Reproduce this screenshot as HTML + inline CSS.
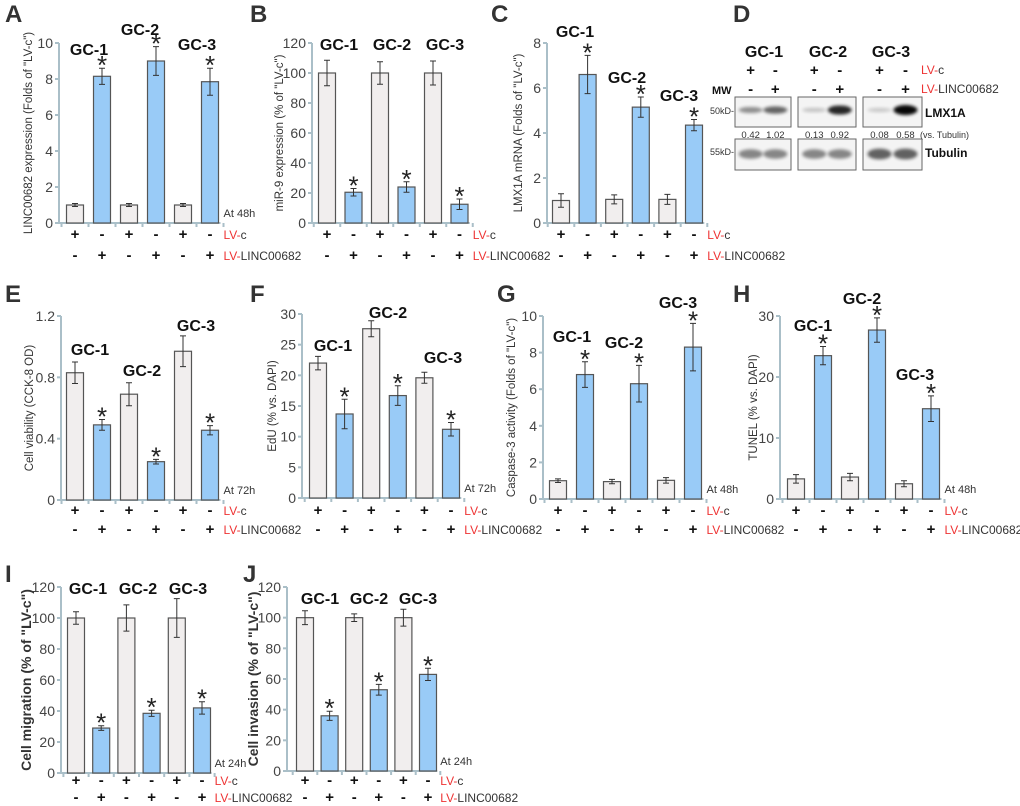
<!DOCTYPE html>
<html><head><meta charset="utf-8"><style>
html,body{margin:0;padding:0;background:#fff;}
svg{display:block;font-family:"Liberation Sans",Arial,sans-serif;}
</style></head><body>
<svg id="fig" width="1020" height="806" viewBox="0 0 1020 806" xmlns="http://www.w3.org/2000/svg">
<defs><filter id="blur" x="-20%" y="-50%" width="140%" height="200%"><feGaussianBlur stdDeviation="1.6"/></filter></defs>
<g id="charts"></g>
<g id="blot">
<text x="733" y="22" font-size="24" font-weight="bold" fill="#333">D</text>
<text x="764" y="57" font-size="16" font-weight="bold" text-anchor="middle" fill="#111">GC-1</text>
<text x="828" y="57" font-size="16" font-weight="bold" text-anchor="middle" fill="#111">GC-2</text>
<text x="891" y="57" font-size="16" font-weight="bold" text-anchor="middle" fill="#111">GC-3</text>
<text x="712" y="94" font-size="11" font-weight="bold" fill="#111">MW</text>
<text x="921" y="74" font-size="12" fill="#e33">LV-<tspan fill="#333">c</tspan></text>
<text x="921" y="93" font-size="12" fill="#e33">LV-<tspan fill="#333">LINC00682</tspan></text>
<text x="734" y="114" font-size="9" text-anchor="end" fill="#333">50kD-</text>
<text x="734" y="155" font-size="9" text-anchor="end" fill="#333">55kD-</text>
<text x="925" y="117" font-size="12" font-weight="bold" fill="#111">LMX1A</text>
<text x="925" y="157" font-size="12" font-weight="bold" fill="#111">Tubulin</text>
<text x="920" y="138" font-size="9" fill="#333">(vs. Tubulin)</text>
</g>
</svg>
<script>
// ---- data (values and SEM) ----
const catGroups = ["GC-1","GC-2","GC-3"];
const valsA = [1, 8.15, 1, 9.0, 1, 7.85];
const errA  = [0.08, 0.45, 0.08, 0.8, 0.08, 0.75];
const valsB = [100, 20.5, 100, 24, 100, 12.5];
const errB  = [8.5, 2.5, 7.5, 3.5, 8, 3.5];
const valsC = [1.0, 6.6, 1.05, 5.15, 1.05, 4.35];
const errC  = [0.3, 0.85, 0.2, 0.45, 0.22, 0.25];
const valsE = [0.83, 0.49, 0.69, 0.25, 0.97, 0.455];
const errE  = [0.07, 0.035, 0.075, 0.015, 0.1, 0.03];
const valsF = [22, 13.7, 27.6, 16.7, 19.6, 11.2];
const errF  = [1.1, 2.4, 1.3, 1.6, 0.9, 1.1];
const valsG = [1.0, 6.8, 0.95, 6.3, 1.02, 8.3];
const errG  = [0.1, 0.7, 0.12, 1.0, 0.15, 1.3];
const valsH = [3.3, 23.5, 3.6, 27.7, 2.5, 14.8];
const errH  = [0.7, 1.5, 0.6, 2.0, 0.5, 2.1];
const valsI = [100, 29, 100, 38.5, 100, 42];
const errI  = [4, 1.5, 8.5, 2, 12.5, 4];
const valsJ = [100, 36, 100, 53, 100, 63];
const errJ  = [4.5, 3, 2.5, 3.5, 5.5, 4];
const ticksA = [0,2,4,6,8,10];
const ticksB = [0,20,40,60,80,100,120];
const ticksC = [0,2,4,6,8];
const ticksE = [0,0.4,0.8,1.2];
const ticksF = [0,5,10,15,20,25,30];
const ticksG = [0,2,4,6,8,10];
const ticksH = [0,10,20,30];
const ticksI = [0,20,40,60,80,100,120];
const ticksJ = [0,20,40,60,80,100,120];
const starsOn = [false,true,false,true,false,true];

const panels = [
 {id:'a',L:'A',lx:5,ly:22,ax:59,x1:75,dx:27,base:223,top:43,vals:valsA,errs:errA,ticks:ticksA,max:10,title:'LINC00682 expression (Folds of "LV-c")',tx:32,bold:false,at:'At 48h',rows:[234,255],g:[[89,55],[140,35],[197,50]]},
 {id:'b',L:'B',lx:250,ly:22,ax:312,x1:327,dx:26.5,base:223,top:43,vals:valsB,errs:errB,ticks:ticksB,max:120,title:'miR-9 expression (% of "LV-c")',tx:283,bold:false,at:null,rows:[234,255],g:[[339,50],[392,50],[445,50]]},
 {id:'c',L:'C',lx:491,ly:22,ax:547,x1:561,dx:26.6,base:223,top:43,vals:valsC,errs:errC,ticks:ticksC,max:8,title:'LMX1A mRNA (Folds of "LV-c")',tx:522,bold:false,at:null,rows:[234,255],g:[[575,37],[627,83],[679,101]]},
 {id:'e',L:'E',lx:5,ly:302,ax:61,x1:75,dx:27,base:500,top:316,vals:valsE,errs:errE,ticks:ticksE,max:1.2,title:'Cell viability (CCK-8 OD)',tx:33,bold:false,at:'At 72h',rows:[510,529],g:[[90,355],[142,376],[196,331]]},
 {id:'f',L:'F',lx:250,ly:302,ax:302,x1:318,dx:26.6,base:498,top:314,vals:valsF,errs:errF,ticks:ticksF,max:30,title:'EdU (% vs. DAPI)',tx:276,bold:false,at:'At 72h',rows:[510,529],g:[[333,351],[388,318],[443,363]]},
 {id:'g',L:'G',lx:497,ly:302,ax:543,x1:558,dx:27,base:499,top:316,vals:valsG,errs:errG,ticks:ticksG,max:10,title:'Caspase-3 activity (Folds of "LV-c")',tx:515,bold:false,at:'At 48h',rows:[510,529],g:[[572,342],[624,348],[678,308]]},
 {id:'h',L:'H',lx:733,ly:302,ax:780,x1:796,dx:27,base:499,top:316,vals:valsH,errs:errH,ticks:ticksH,max:30,title:'TUNEL (% vs. DAPI)',tx:757,bold:false,at:'At 48h',rows:[510,529],g:[[813,331],[862,304],[915,380]]},
 {id:'i',L:'I',lx:5,ly:582,ax:61,x1:76,dx:25.2,base:773,top:587,vals:valsI,errs:errI,ticks:ticksI,max:120,title:'Cell migration (% of "LV-c")',tx:31,bold:true,at:'At 24h',rows:[780,797],g:[[88,594],[138,594],[188,594]]},
 {id:'j',L:'J',lx:243,ly:582,ax:287,x1:305,dx:24.6,base:771,top:587,vals:valsJ,errs:errJ,ticks:ticksJ,max:120,title:'Cell invasion (% of "LV-c")',tx:258,bold:true,at:'At 24h',rows:[780,797],g:[[320,604],[369,604],[418,604]]}
];
const NS='http://www.w3.org/2000/svg';
const root=document.getElementById('charts');
function mk(tag,attrs,parent,txt){const e=document.createElementNS(NS,tag);for(const k in attrs)e.setAttribute(k,attrs[k]);if(txt!==undefined)e.textContent=txt;parent.appendChild(e);return e;}
panels.forEach(p=>{
 const g=mk('g',{},root);
 
 
 const yS=v=>p.base-v/p.max*(p.base-p.top);
 const xS=i=>p.x1+i*p.dx;
 const bw=17;
 const xEnd=xS(5)+p.dx/2-3;
 const lab=mk('text',{x:p.lx,y:p.ly,'font-size':24,'font-weight':'bold',fill:'#333'},g,p.L);
 
 
 const yax=mk('line',{x1:p.ax,y1:p.top,x2:p.ax,y2:p.base,stroke:'#aabfc8','stroke-width':2},g);
 
 
 const xax=mk('line',{x1:p.ax-4,y1:p.base,x2:xEnd,y2:p.base,stroke:'#aabfc8','stroke-width':2},g);
 
 
 p.ticks.forEach(t=>{
  const y=yS(t);
  mk('line',{x1:p.ax-4,y1:y,x2:p.ax,y2:y,stroke:'#aabfc8','stroke-width':2},g);
  const tl=mk('text',{x:p.ax-6,y:y+5,'font-size':14,'text-anchor':'end',fill:'#444'},g,String(t));
  
  
 });
 for(let i=0;i<=6;i++){const x=p.x1-p.dx/2+i*p.dx;mk('line',{x1:x,y1:p.base,x2:x,y2:p.base+4,stroke:'#aabfc8','stroke-width':2},g);}
 const tt=mk('text',{transform:`translate(${p.tx},${(p.top+p.base)/2}) rotate(-90)`,'font-size':p.bold?14:11.5,'font-weight':p.bold?'bold':'normal','text-anchor':'middle',fill:'#333'},g,p.title);
 
 
 p.vals.forEach((v,i)=>{
  const x=xS(i),y=yS(v),lv=i%2===1;
  const r=mk('rect',{x:x-bw/2,y:y,width:bw,height:p.base-y,fill:lv?'#99cbf7':'#f1eeee',stroke:'#555','stroke-width':1.2},g);
  
  
  const e=p.errs[i],yt=yS(v+e),yb=yS(v-e);
  const eb=mk('path',{d:`M${x},${yt}V${yb}M${x-3},${yt}H${x+3}M${x-3},${yb}H${x+3}`,stroke:'#333','stroke-width':1,fill:'none'},g);
  
  
  if(starsOn[i]){const s=mk('text',{x:x,y:yt+6,'font-size':26,'text-anchor':'middle',fill:'#222'},g,'*');
   
   }
  const pm1=mk('text',{x:x,y:p.rows[0]+5,'font-size':15,'font-weight':'bold','text-anchor':'middle',fill:'#111'},g,lv?'-':'+');
  
  
  const pm2=mk('text',{x:x,y:p.rows[1]+5,'font-size':15,'font-weight':'bold','text-anchor':'middle',fill:'#111'},g,lv?'+':'-');
  
  
 });
 const r1=mk('text',{x:xEnd+3,y:p.rows[0]+5,'font-size':12,fill:'#e33'},g,'LV-');
 mk('tspan',{fill:'#333'},r1,'c');
 
 
 const r2=mk('text',{x:xEnd+3,y:p.rows[1]+5,'font-size':12,fill:'#e33'},g,'LV-');
 mk('tspan',{fill:'#333'},r2,'LINC00682');
 
 
 if(p.at){const a=mk('text',{x:xEnd+3,y:p.base-6,'font-size':11,fill:'#333'},g,p.at);
  
  }
 p.g.forEach((c,k)=>{const t=mk('text',{x:c[0],y:c[1],'font-size':16,'font-weight':'bold','text-anchor':'middle',fill:'#111'},g,catGroups[k]);
  
  });
});
// ---- western blot ----
const blotRatios = ["0.42","1.02","0.13","0.92","0.08","0.58"];
const lmxIntensity = [0.35,0.55,0.08,0.85,0.06,1.0];
const tubIntensity = [0.45,0.45,0.45,0.45,0.6,0.6];
const blot=document.getElementById('blot');
const boxes=[[735,791],[798,856],[863,922]];
boxes.forEach((b,k)=>{
 const w=b[1]-b[0];
 const bx1=mk('rect',{x:b[0],y:97,width:w,height:30,fill:'#f4f4f4',stroke:'#666','stroke-width':1},blot);
 
 
 const bx2=mk('rect',{x:b[0],y:139,width:w,height:31,fill:'#f4f4f4',stroke:'#666','stroke-width':1},blot);
 
 
 for(let j=0;j<2;j++){
  const i=k*2+j, cx=b[0]+w*(j?0.72:0.28);
  const li=lmxIntensity[i];
  const band=mk('ellipse',{cx:cx,cy:110,rx:12,ry:2+3*li,fill:'#000',opacity:0.12+0.85*li,filter:'url(#blur)'},blot);
  
  
  const tb=mk('ellipse',{cx:cx,cy:154,rx:12,ry:3+4*tubIntensity[i],fill:'#000',opacity:tubIntensity[i],filter:'url(#blur)'},blot);
  
  
  const rt=mk('text',{x:cx,y:138,'font-size':9.5,'text-anchor':'middle',fill:'#333'},blot,blotRatios[i]);
  
  
  const s1=mk('text',{x:cx,y:75,'font-size':15,'font-weight':'bold','text-anchor':'middle',fill:'#111'},blot,j?'-':'+');
  
  
  const s2=mk('text',{x:cx,y:94,'font-size':15,'font-weight':'bold','text-anchor':'middle',fill:'#111'},blot,j?'+':'-');
  
  
 }
});
</script>
</body></html>
